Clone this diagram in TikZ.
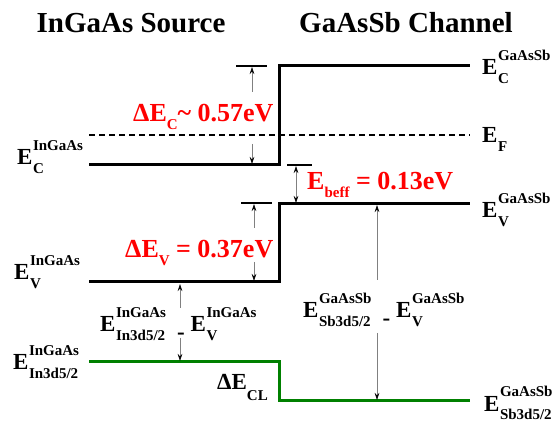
\documentclass[tikz,border=0pt]{standalone}
\usepackage{fontspec}
\setmainfont{Liberation Serif}
\usetikzlibrary{arrows.meta}
\definecolor{bandgreen}{RGB}{0,128,0}
\definecolor{redlab}{RGB}{255,0,0}
\newcommand\subf{\fontsize{15}{15}\selectfont}
\newcommand\EL[2]{E\kern0.5pt\sbox0{\subf#1}\sbox2{\subf#2}\rlap{\raisebox{14pt}{\usebox0}}\rlap{\raisebox{-9pt}{\usebox2}}\ifdim\wd0>\wd2 \hspace{\wd0}\else\hspace{\wd2}\fi}
\begin{document}
\begin{tikzpicture}[x=1pt,y=-1pt,
  font=\bfseries\fontsize{23}{26}\selectfont,
  band/.style={line width=3pt},
  fermi/.style={line width=2pt, dash pattern=on 6pt off 4pt},
  tickmark/.style={line width=1.5pt},
  dim/.style={draw=gray, line width=0.6pt, -{Stealth[black,length=7pt,width=4.5pt]}},
  dimboth/.style={draw=gray, line width=0.6pt, {Stealth[black,length=7pt,width=4.5pt]}-{Stealth[black,length=7pt,width=4.5pt]}},
  lab/.style={anchor=base west, inner sep=0pt},
  redl/.style={lab, text=redlab, font=\bfseries\fontsize{26}{28}\selectfont},
  title/.style={anchor=base, inner sep=0pt, font=\bfseries\fontsize{29}{32}\selectfont}]
\useasboundingbox (0,0) rectangle (558,425);

% titles
\node[title] (t1) at (131,33) {InGaAs Source};
\node[title] (t2) at (406,33) {GaAsSb Channel};

% bands
\draw[band] (89,165) -- (279,165) -- (279,66) -- (470,66);
\draw[fermi] (89,135) -- (470,135);
\draw[band] (89,282) -- (279,282) -- (279,204) -- (470,204);
\draw[band, bandgreen] (89,362) -- (279,362) -- (279,401) -- (470,401);

% right labels
\node[lab] (ecg) at (482,75) {\EL{GaAsSb}{C}};
\node[lab] (ef) at (482,143) {\EL{}{F}};
\node[lab] (evg) at (482,218) {\EL{GaAsSb}{V}};
\node[lab] (esb) at (484,411) {\EL{GaAsSb}{Sb3d5/2}};
% left labels
\node[lab] (eci) at (17,165) {\EL{InGaAs}{C}};
\node[lab] (evi) at (14,280) {\EL{InGaAs}{V}};
\node[lab] (eini) at (13,370) {\EL{InGaAs}{In3d5/2}};

% middle labels
\node[lab] (mi) at (100,332) {\EL{InGaAs}{In3d5/2}\kern11pt\raisebox{-8pt}{-}\kern6pt\EL{InGaAs}{V}};
\node[lab] (mg) at (303,318) {\EL{GaAsSb}{Sb3d5/2}\kern11pt\raisebox{-8pt}{-}\kern6pt\EL{GaAsSb}{V}};
\node[lab] (dcl) at (217,390) {ΔE\raisebox{-10pt}{\subf CL}};

% red labels
\node[redl] (dec) at (133,122) {ΔE\raisebox{-8pt}{\subf C}\textasciitilde{} 0.57eV};
\node[redl] (dev) at (125,258) {ΔE\raisebox{-8pt}{\subf V} = 0.37eV};
\node[redl] (deb) at (307,190) {E\raisebox{-8pt}{\subf beff} = 0.13eV};

% tick marks
\draw[tickmark] (236,66) -- (267,66);
\draw[tickmark] (241,203) -- (272,203);
\draw[tickmark] (287,165) -- (312,165);

% arrow end points
\coordinate (c1a) at (252,92);  \coordinate (c1b) at (252,67);
\coordinate (c2a) at (252,144); \coordinate (c2b) at (252,164);
\coordinate (v1a) at (254,228); \coordinate (v1b) at (254,204);
\coordinate (v2a) at (254,262); \coordinate (v2b) at (254,281);
\coordinate (ba) at (296,166);  \coordinate (bb) at (296,203);
\coordinate (i1a) at (180,308); \coordinate (i1b) at (180,284);
\coordinate (i2a) at (180,338); \coordinate (i2b) at (180,361);
\coordinate (g1a) at (377,280); \coordinate (g1b) at (377,205);
\coordinate (g2a) at (377,333); \coordinate (g2b) at (377,400);

\draw[dim] (c1a) -- (c1b);
\draw[dim] (c2a) -- (c2b);
\draw[dim] (v1a) -- (v1b);
\draw[dim] (v2a) -- (v2b);
\draw[dimboth] (ba) -- (bb);
\draw[dim] (i1a) -- (i1b);
\draw[dim] (i2a) -- (i2b);
\draw[dim] (g1a) -- (g1b);
\draw[dim] (g2a) -- (g2b);
\end{tikzpicture}
\end{document}
